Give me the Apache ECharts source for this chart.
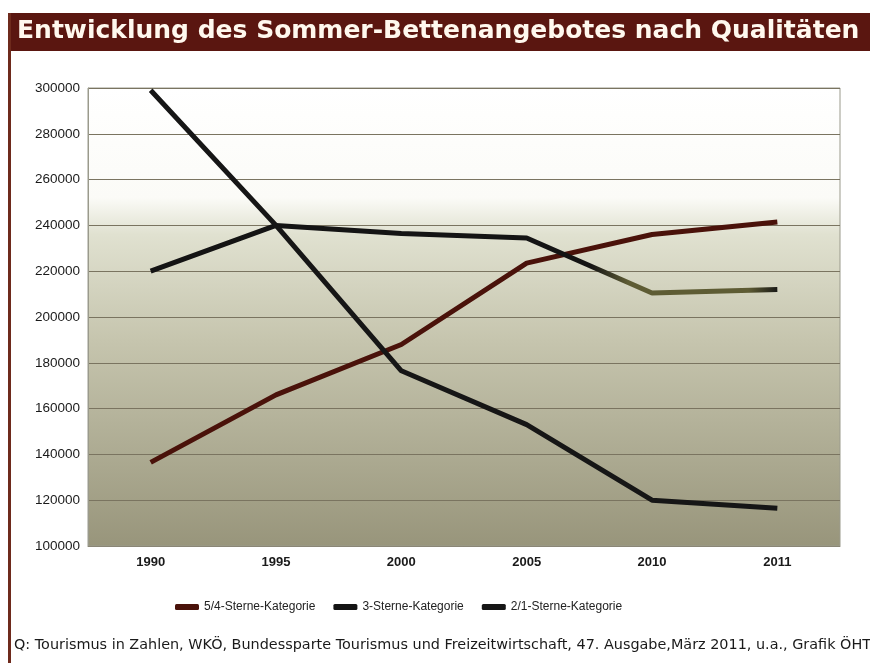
<!DOCTYPE html>
<html>
<head>
<meta charset="utf-8">
<script src="https://cdn.jsdelivr.net/npm/echarts@6/dist/echarts.min.js"></script>
<style>
  html, body { margin: 0; padding: 0; background: #fff; }
  #chart { width: 870px; height: 663px; }
</style>
</head>
<body>
<div id="chart"></div>
<script>
// Jahre (x-Achse)
const years = ["1990", "1995", "2000", "2005", "2010", "2011"];
// Betten je Kategorie
const sterne54 = [136500, 166000, 188000, 223500, 236000, 241500];
const sterne3 = [220000, 240000, 236500, 234500, 210500, 212000];
const sterne21 = [299000, 240000, 176500, 153000, 120000, 116500];
const seriesNames = ["5/4-Sterne-Kategorie", "3-Sterne-Kategorie", "2/1-Sterne-Kategorie"];

let myChart = echarts.init(document.getElementById("chart"));
let option = {
  animation: false,
  textStyle: { fontFamily: "Liberation Sans, Arial, sans-serif" },
  graphic: [
    { type: "rect", shape: { x: 8, y: 13, width: 862, height: 38 }, style: { fill: "#5a1610" } },
    { type: "rect", shape: { x: 8, y: 13, width: 3, height: 650 }, style: { fill: "#6e2a1c" } },
    {
      type: "text", left: 17, top: 19,
      style: { text: "Entwicklung des Sommer-Bettenangebotes nach Qualitäten", fill: "#fff8ee",
        font: "bold 25px 'DejaVu Sans', sans-serif" }
    },
    {
      type: "text", left: 14, top: 638,
      style: { text: "Q: Tourismus in Zahlen, WKÖ, Bundessparte Tourismus und Freizeitwirtschaft, 47. Ausgabe,März 2011, u.a., Grafik ÖHT",
        fill: "#1a1a1a", font: "14.4px 'DejaVu Sans', sans-serif" }
    }
  ],
  grid: {
    left: 88, right: 30, top: 88, bottom: 117,
    show: true,
    borderWidth: 1,
    borderColor: "#9a9a8c",
    backgroundColor: {
      type: "linear", x: 0, y: 0, x2: 0, y2: 1,
      colorStops: [
        { offset: 0, color: "#ffffff" },
        { offset: 0.24, color: "#fbfbf7" },
        { offset: 0.32, color: "#e0e1d0" },
        { offset: 0.55, color: "#c6c5ae" },
        { offset: 1, color: "#98957b" }
      ]
    }
  },
  legend: {
    data: seriesNames,
    top: 596,
    left: 170,
    itemWidth: 24,
    itemHeight: 6,
    itemGap: 18,
    icon: "roundRect",
    textStyle: { fontSize: 12, color: "#222" }
  },
  xAxis: {
    type: "category",
    data: years,
    boundaryGap: true,
    axisLine: { lineStyle: { color: "#8a8676" } },
    axisTick: { show: false },
    axisLabel: { fontSize: 13, color: "#1a1a1a", fontWeight: "bold", margin: 10 }
  },
  yAxis: {
    type: "value",
    min: 100000,
    max: 300000,
    interval: 20000,
    axisLine: { show: true, lineStyle: { color: "#9a9a8c" } },
    axisTick: { show: false },
    axisLabel: { fontSize: 13.5, color: "#1a1a1a", margin: 8, formatter: (v) => String(v) },
    splitLine: { lineStyle: { color: "#7a7460", width: 1 } }
  },
  series: [
    {
      name: seriesNames[0], type: "line", data: sterne54,
      symbol: "none", color: "#4a120a",
      lineStyle: { width: 5, color: "#4a120a" }
    },
    {
      name: seriesNames[1], type: "line", data: sterne3,
      symbol: "none", color: "#141414",
      lineStyle: {
        width: 5,
        color: {
          type: "linear", x: 0, y: 0, x2: 1, y2: 0,
          colorStops: [
            { offset: 0, color: "#141414" },
            { offset: 0.7, color: "#141414" },
            { offset: 0.76, color: "#5e5c34" },
            { offset: 0.95, color: "#5e5c34" },
            { offset: 1, color: "#141414" }
          ]
        }
      }
    },
    {
      name: seriesNames[2], type: "line", data: sterne21,
      symbol: "none", color: "#161616",
      lineStyle: { width: 5, color: "#161616" }
    }
  ]
};
myChart.setOption(option);
</script>
</body>
</html>
